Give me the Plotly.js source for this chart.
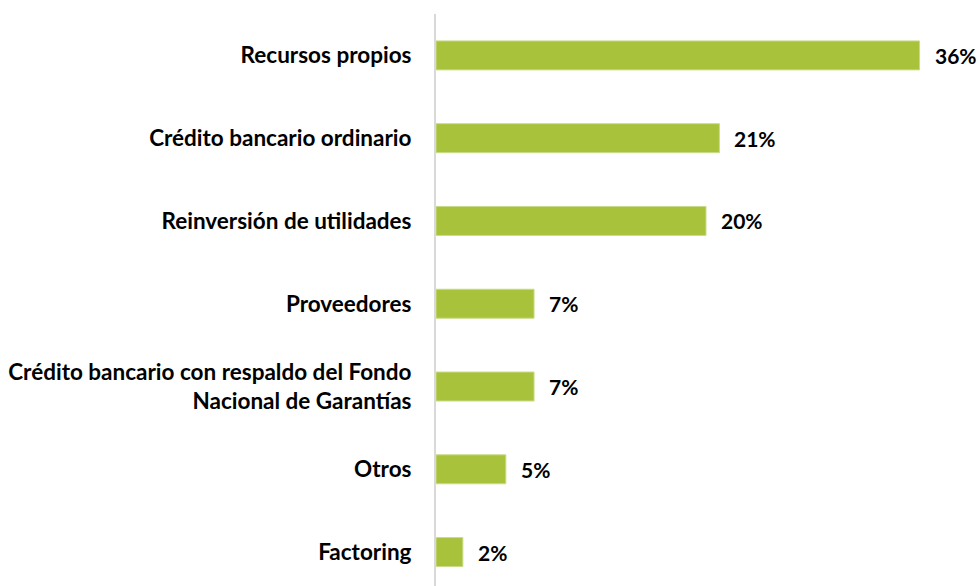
<!DOCTYPE html>
<html>
<head>
<meta charset="utf-8">
<script src="https://cdn.plot.ly/plotly-3.0.1.min.js"></script>
<style>html,body{margin:0;padding:0;background:#fff;}#chart{width:980px;height:586px;}</style>
</head>
<body>
<div id="chart"></div>
<script>
const categories = [
  "Recursos propios",
  "Crédito bancario ordinario",
  "Reinversión de utilidades",
  "Proveedores",
  "Crédito bancario con respaldo del Fondo<br>Nacional de Garantías",
  "Otros",
  "Factoring"
];
const values = [36.0, 21.1, 20.1, 7.3, 7.3, 5.2, 2.0];
const valueLabels = ["36%", "21%", "20%", "7%", "7%", "5%", "2%"];

const FONT = "Lato, 'Open Sans', sans-serif";

const trace = {
  type: "bar",
  orientation: "h",
  y: categories,
  x: values,
  width: 0.35,
  marker: {color: "#A9C23B", line: {color: "#C9DB8A", width: 1}},
  hoverinfo: "skip"
};

const annotations = categories.map((c, i) => ({
  x: values[i], y: c, xref: "x", yref: "y",
  text: valueLabels[i], showarrow: false,
  xanchor: "left", xshift: 13,
  font: {family: FONT, size: 21, color: "#000", weight: "bold"}
}));

const layout = {
  width: 980, height: 586,
  margin: {l: 436, r: 0, t: 14, b: 0},
  paper_bgcolor: "#fff", plot_bgcolor: "#fff",
  showlegend: false,
  xaxis: {range: [0, 40.5], visible: false, fixedrange: true},
  yaxis: {
    type: "category",
    range: [6.41, -0.5],
    showline: true, linecolor: "#D9D9D9", linewidth: 2,
    showgrid: false, zeroline: false, ticks: "",
    ticklabelstandoff: 18,
    tickfont: {family: FONT, size: 22.5, color: "#000", weight: "bold"},
    fixedrange: true
  },
  annotations: annotations
};

Plotly.newPlot("chart", [trace], layout, {displayModeBar: false, staticPlot: true});
</script>
</body>
</html>
